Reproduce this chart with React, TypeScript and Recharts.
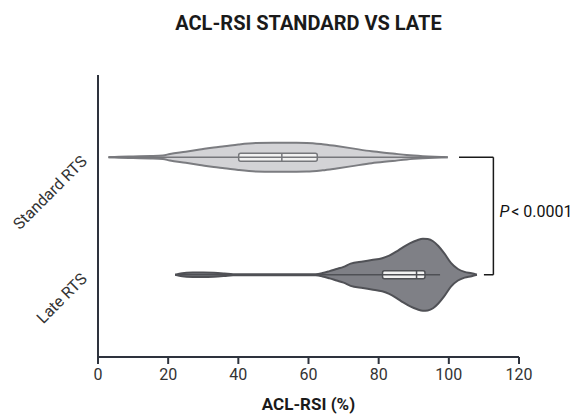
import React from 'react';
import {
  ComposedChart,
  Area,
  XAxis,
  YAxis,
  ReferenceArea,
  ReferenceLine,
  Label,
} from 'recharts';

// groups, top to bottom
const CATEGORIES = ['Standard RTS', 'Late RTS'];
const X_TICKS = [0, 20, 40, 60, 80, 100, 120];

// kernel density outline (relative height) along ACL-RSI
const STANDARD_X = [3, 6, 10, 15, 18.5, 20.5, 25, 29, 33, 36, 40, 45, 50, 55, 59.5, 64, 68, 72, 78, 84, 88, 92.6, 96, 99.7];
const STANDARD_DENSITY = [0, 0.04, 0.06, 0.08, 0.12, 0.23, 0.38, 0.53, 0.68, 0.76, 0.88, 0.98, 1.0, 1.0, 0.99, 0.9, 0.77, 0.63, 0.41, 0.26, 0.15, 0.07, 0.03, 0];

const LATE_X = [22, 24, 27, 30, 33, 36, 38.5, 45, 55, 62, 64, 66, 68, 70, 72, 75.5, 78, 81, 83, 85, 87, 89, 91, 92.6, 94, 95.5, 97, 98.6, 100.6, 102.6, 104.5, 106.5, 108];
const LATE_DENSITY = [0, 0.04, 0.06, 0.065, 0.055, 0.035, 0.015, 0.011, 0.011, 0.017, 0.047, 0.1, 0.16, 0.22, 0.31, 0.37, 0.41, 0.46, 0.53, 0.64, 0.77, 0.88, 0.96, 1.0, 0.99, 0.93, 0.8, 0.61, 0.33, 0.16, 0.08, 0.04, 0];

// box plot summaries: [min, q1, median, q3, max]
const STANDARD_BOX = [3, 40.1, 52.4, 62.5, 99];
const LATE_BOX = [22, 81.1, 90.8, 93.2, 97.5];

const P_LABEL = '< 0.0001';

const FONT = 'Roboto, "Noto Sans", sans-serif';
const AXIS = '#2e333d';

// y layout (numeric band positions)
const Y_DOMAIN: [number, number] = [0, 2.4];
const POS = [1.7, 0.7];
const STANDARD_WIDTH = 0.1234;
const LATE_WIDTH = 0.3064;
const BOX_HALF = 0.035;

const standardData = STANDARD_X.map((x, i) => ({ x, d: STANDARD_DENSITY[i] }));
const lateData = LATE_X.map((x, i) => ({ x, d: LATE_DENSITY[i] }));

const CategoryTick = (props: any) => {
  const { x, y, payload } = props;
  const idx = POS.indexOf(payload.value);
  const ax = x - 10;
  const ay = y + 5;
  return (
    <text
      x={ax}
      y={ay}
      transform={`rotate(-45 ${ax} ${ay})`}
      textAnchor="end"
      fontFamily={FONT}
      fontSize={16}
      fill="#333"
    >
      {CATEGORIES[idx]}
    </text>
  );
};

const PLabel = (props: any) => {
  const { viewBox } = props;
  return (
    <text
      x={viewBox.x + 6}
      y={viewBox.y + viewBox.height / 2 + 1}
      fontFamily={FONT}
      fontSize={16}
      fill="#111"
    >
      <tspan fontStyle="italic">P</tspan>
      <tspan dx={2}>{P_LABEL}</tspan>
    </text>
  );
};

function boxParts(box: number[], pos: number, stroke: string, key: string) {
  const [min, q1, med, q3, max] = box;
  return [
    <ReferenceLine
      key={key + 'w'}
      segment={[{ x: min, y: pos }, { x: max, y: pos }]}
      stroke={stroke}
      strokeWidth={1.5}
    />,
    <ReferenceArea
      key={key + 'b'}
      x1={q1}
      x2={q3}
      y1={pos - BOX_HALF}
      y2={pos + BOX_HALF}
      fill="#f2f2f2"
      fillOpacity={1}
      stroke={stroke}
      strokeWidth={1.5}
      radius={2}
    />,
    <ReferenceLine
      key={key + 'm'}
      segment={[{ x: med, y: pos - BOX_HALF }, { x: med, y: pos + BOX_HALF }]}
      stroke={stroke}
      strokeWidth={1.5}
    />,
  ];
}

export default function App() {
  return (
    <div style={{ position: 'absolute', left: 0, top: 0, width: 579, height: 414, background: '#fff' }}>
      <svg width={579} height={60} style={{ position: 'absolute', left: 0, top: 0 }}>
        <text x={308.5} y={30} textAnchor="middle" fontFamily={FONT} fontWeight={700} fontSize={20} fill="#1a1a1a">
          ACL-RSI STANDARD VS LATE
        </text>
      </svg>
      <ComposedChart width={579} height={414} margin={{ top: 75, right: 60, bottom: 0, left: 0 }}>
        <XAxis
          type="number"
          dataKey="x"
          domain={[0, 120]}
          ticks={X_TICKS}
          allowDataOverflow
          height={57}
          tickSize={7}
          tickMargin={5}
          axisLine={{ stroke: AXIS, strokeWidth: 2 }}
          tickLine={{ stroke: AXIS, strokeWidth: 2 }}
          tick={{ fill: '#333', fontSize: 16, fontFamily: FONT }}
        >
          <Label
            value="ACL-RSI (%)"
            position="insideBottom"
            offset={4}
            style={{ fontFamily: FONT, fontWeight: 700, fontSize: 17, fill: '#1a1a1a' }}
          />
        </XAxis>
        <YAxis
          type="number"
          domain={Y_DOMAIN}
          ticks={POS}
          width={98}
          axisLine={false}
          tickLine={false}
          tickSize={0}
          tickMargin={0}
          tick={<CategoryTick />}
        />
        <Area
          data={standardData}
          dataKey={(e: any) => [POS[0] - e.d * STANDARD_WIDTH, POS[0] + e.d * STANDARD_WIDTH]}
          type="monotone"
          fill="#d3d3d6"
          fillOpacity={1}
          stroke="#7b7c80"
          strokeWidth={2}
          isAnimationActive={false}
          dot={false}
          activeDot={false}
        />
        <Area
          data={lateData}
          dataKey={(e: any) => [POS[1] - e.d * LATE_WIDTH, POS[1] + e.d * LATE_WIDTH]}
          type="monotone"
          fill="#7f8086"
          fillOpacity={1}
          stroke="#505156"
          strokeWidth={2}
          isAnimationActive={false}
          dot={false}
          activeDot={false}
        />
        {boxParts(STANDARD_BOX, POS[0], '#76777b', 's')}
        {boxParts(LATE_BOX, POS[1], '#4f5055', 'l')}
        <ReferenceLine
          segment={[{ x: 0, y: -0.055 }, { x: 0, y: Y_DOMAIN[1] }]}
          stroke={AXIS}
          strokeWidth={2}
          ifOverflow="visible"
        />
        <ReferenceLine
          segment={[{ x: 102.9, y: POS[0] }, { x: 112.7, y: POS[0] }]}
          stroke="#1a1a1a"
          strokeWidth={1.5}
          ifOverflow="visible"
        />
        <ReferenceLine
          segment={[{ x: 110, y: POS[1] }, { x: 112.7, y: POS[1] }]}
          stroke="#1a1a1a"
          strokeWidth={1.5}
          ifOverflow="visible"
        />
        <ReferenceLine
          segment={[{ x: 112.7, y: POS[0] }, { x: 112.7, y: POS[1] }]}
          stroke="#1a1a1a"
          strokeWidth={1.5}
          ifOverflow="visible"
          label={<PLabel />}
        />
      </ComposedChart>
    </div>
  );
}
